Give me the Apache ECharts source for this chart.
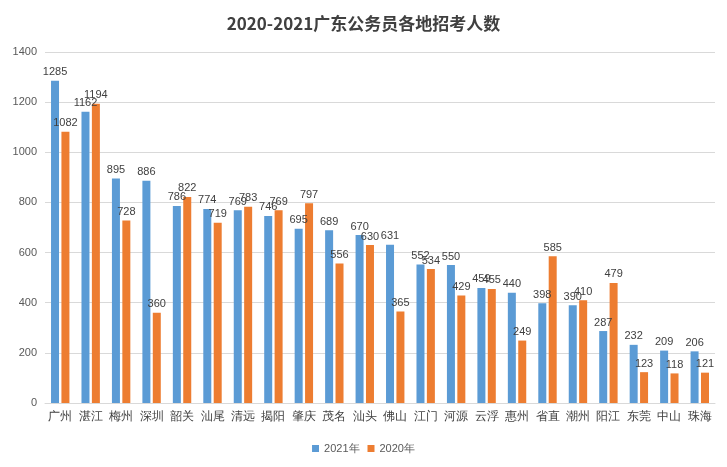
<!DOCTYPE html>
<html><head><meta charset="utf-8">
<script src="https://cdn.jsdelivr.net/npm/echarts@6/dist/echarts.min.js"></script>
<style>html,body{margin:0;padding:0;background:#fff}#c{width:727px;height:467px}</style>
</head><body><div id="c"></div>
<script>
const categories = ['广州','湛江','梅州','深圳','韶关','汕尾','清远','揭阳','肇庆','茂名','汕头','佛山','江门','河源','云浮','惠州','省直','潮州','阳江','东莞','中山','珠海'];
const values2021 = [1285,1162,895,886,786,774,769,746,695,689,670,631,552,550,459,440,398,390,287,232,209,206];
const values2020 = [1082,1194,728,360,822,719,783,769,797,556,630,365,534,429,455,249,585,410,479,123,118,121];
const yTicks = {min:0,max:1400,interval:200};
const chart = echarts.init(document.getElementById('c'));
const lbl = {show:true,position:'top',color:'#404040',fontSize:11,distance:3};
chart.setOption({
  animation:false,
  title:{text:'2020-2021广东公务员各地招考人数',left:'center',top:10,textStyle:{fontSize:17,fontWeight:'bold',color:'#404040',fontFamily:'Noto Sans CJK SC'}},
  grid:{left:45,right:12,top:52,bottom:64},
  legend:{bottom:8,itemWidth:7,itemHeight:7,icon:'rect',textStyle:{fontSize:11,color:'#595959'},data:['2021年','2020年']},
  xAxis:{type:'category',data:categories,axisTick:{show:false},axisLine:{lineStyle:{color:'#d9d9d9'}},axisLabel:{color:'#404040',fontSize:12,interval:0}},
  yAxis:{type:'value',min:yTicks.min,max:yTicks.max,interval:yTicks.interval,axisLine:{show:false},axisTick:{show:false},axisLabel:{color:'#595959',fontSize:11,formatter:v=>String(v)},splitLine:{lineStyle:{color:'#d9d9d9'}}},
  series:[
    {name:'2021年',type:'bar',data:values2021,barWidth:8,barGap:'30%',itemStyle:{color:'#5B9BD5'},label:lbl},
    {name:'2020年',type:'bar',data:values2020,barWidth:8,itemStyle:{color:'#ED7D31'},label:lbl}
  ]
});
</script></body></html>
